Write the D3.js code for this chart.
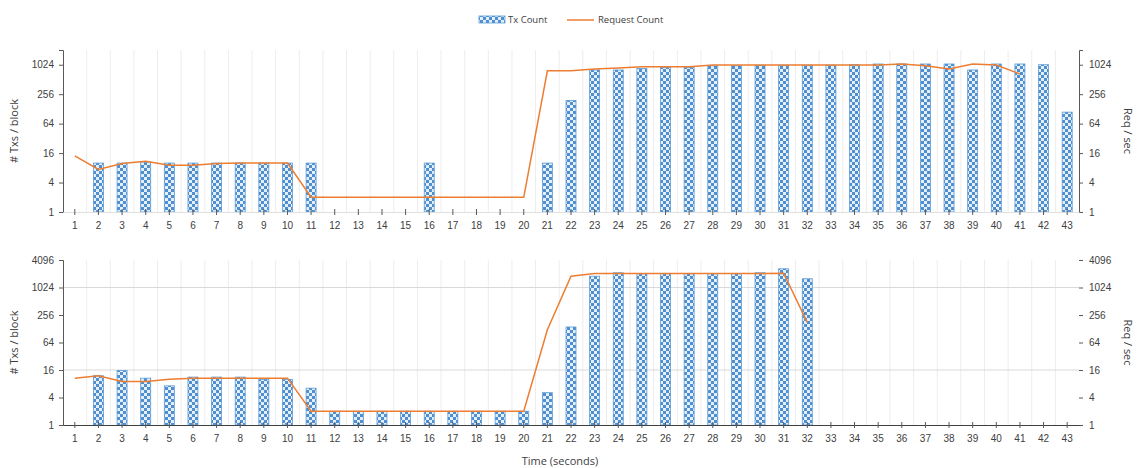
<!DOCTYPE html>
<html>
<head>
<meta charset="utf-8">
<script src="https://cdn.jsdelivr.net/npm/d3@7"></script>
<style>
  body { margin: 0; background: #fff; }
  svg { display: block; font-family: 'Open Sans', 'Liberation Sans', sans-serif; }
  .lbl { font-size: 10px; fill: #404040; }
</style>
</head>
<body>
<div id="chart"></div>
<script>
// seconds 1..43
const seconds = d3.range(1, 44);

// top run: tx per block (null = no block) and requests per second
const topTx = [null, 10, 10, 10.5, 10, 10, 10, 10, 10, 10, 10, null, null, null, null, 10, null, null, null, null,
  10, 190, 800, 800, 860, 900, 900, 975, 975, 1000, 1000, 1000, 1000, 1024, 1060, 1060, 1060, 1060, 800, 1060,
  1060, 1024, 110];
const topReq = [14, 7.4, 9.8, 10.9, 9, 9, 9.8, 10, 10, 10, 2, 2, 2, 2, 2, 2, 2, 2, 2, 2,
  770, 770, 835, 880, 930, 930, 930, 1010, 1010, 1010, 1010, 1010, 1010, 1010, 1010, 1060, 980, 835, 1060, 1010,
  660, null, null];

// bottom run
const botTx = [null, 12, 15.6, 10.6, 7.2, 11.2, 11.2, 11.2, 10, 10, 6.4, 2, 2, 2, 2, 2, 2, 2, 2, 2,
  5.1, 140, 1810, 2150, 2048, 2048, 2048, 2048, 2048, 2150, 2630, 1590,
  null, null, null, null, null, null, null, null, null, null, null];
const botReq = [10.6, 12, 9, 9, 10, 10.6, 10.6, 10.6, 10.6, 10.6, 2, 2, 2, 2, 2, 2, 2, 2, 2, 2,
  122, 1810, 2080, 2080, 2080, 2080, 2080, 2080, 2080, 2080, 2100, 177,
  null, null, null, null, null, null, null, null, null, null, null];

const topTicks = [1, 4, 16, 64, 256, 1024];
const botTicks = [1, 4, 16, 64, 256, 1024, 4096];
const botGrid = [16, 1024];

const W = 1137, H = 468;
const svg = d3.select('#chart').append('svg').attr('width', W).attr('height', H);

const defs = svg.append('defs');
const pat = defs.append('pattern')
  .attr('id', 'check')
  .attr('patternUnits', 'userSpaceOnUse')
  .attr('width', 6).attr('height', 6);
pat.append('rect').attr('width', 6).attr('height', 6).attr('fill', '#e4effa');
pat.append('rect').attr('width', 3).attr('height', 3).attr('fill', '#4f8fd0');
pat.append('rect').attr('x', 3).attr('y', 3).attr('width', 3).attr('height', 3).attr('fill', '#4f8fd0');

const x = d3.scaleBand().domain(seconds).range([63, 1079]).paddingInner(0).paddingOuter(0);
const barW = 10;

function panel(opts) {
  const { top, bottom, max, ticks, tx, req, grid, darkAxis, rightLine, xTitle } = opts;
  const y = d3.scaleLog().base(2).domain([1, max]).range([bottom, top]);
  const g = svg.append('g');

  // vertical gridlines at category boundaries
  g.selectAll('line.vg')
    .data(seconds.slice(1))
    .join('line')
    .attr('x1', (d) => x(d)).attr('x2', (d) => x(d))
    .attr('y1', top).attr('y2', bottom)
    .attr('stroke', '#ededed').attr('stroke-width', 1);

  g.selectAll('line.hg')
    .data(grid)
    .join('line')
    .attr('x1', x.range()[0]).attr('x2', x.range()[1])
    .attr('y1', (d) => y(d)).attr('y2', (d) => y(d))
    .attr('stroke', '#d9d9d9');

  // bars
  const bars = seconds.map((s, i) => ({ s, v: tx[i] })).filter((d) => d.v != null);
  g.selectAll('rect.bar')
    .data(bars)
    .join('rect')
    .attr('x', (d) => x(d.s) + x.bandwidth() / 2 - barW / 2)
    .attr('y', (d) => y(d.v))
    .attr('width', barW)
    .attr('height', (d) => y(1) - y(d.v))
    .attr('fill', 'url(#check)')
    .attr('stroke', '#5b9bd5')
    .attr('stroke-width', 0.8);

  // request line
  const pts = seconds.map((s, i) => ({ s, v: req[i] })).filter((d) => d.v != null);
  g.append('path')
    .datum(pts)
    .attr('fill', 'none')
    .attr('stroke', '#ed7d31')
    .attr('stroke-width', 1.5)
    .attr('d', d3.line().x((d) => x(d.s) + x.bandwidth() / 2).y((d) => y(d.v)));

  // left axis
  const la = g.append('g').attr('transform', `translate(${x.range()[0]},0)`)
    .call(d3.axisLeft(y).tickValues(ticks).tickFormat(d3.format('d')).tickSize(4).tickPadding(5));
  la.select('.domain').attr('stroke', '#595959');
  la.selectAll('.tick line').attr('stroke', '#595959');
  la.selectAll('text').attr('class', 'lbl').attr('fill', null);

  // right axis
  const ra = g.append('g').attr('transform', `translate(${x.range()[1]},0)`)
    .call(d3.axisRight(y).tickValues(ticks).tickFormat(d3.format('d')).tickSize(4).tickPadding(6));
  ra.select('.domain').attr('stroke', rightLine ? '#595959' : 'none');
  ra.selectAll('.tick line').attr('stroke', '#595959');
  ra.selectAll('text').attr('class', 'lbl').attr('fill', null);

  // x axis
  const xa = g.append('g').attr('transform', `translate(0,${bottom})`)
    .call(d3.axisBottom(x).tickSize(4).tickSizeOuter(0).tickPadding(6));
  xa.select('.domain').attr('stroke', darkAxis ? '#404040' : '#e0e0e0').attr('stroke-width', darkAxis ? 1.2 : 1);
  xa.selectAll('.tick line').attr('stroke', '#595959').attr('y1', -3).attr('y2', 3);
  xa.selectAll('text').attr('class', 'lbl').attr('fill', null);

  const mid = (top + bottom) / 2;
  g.append('text').attr('class', 'lbl')
    .attr('transform', `translate(18,${mid}) rotate(-90)`)
    .attr('text-anchor', 'middle').style('font-size', '11px')
    .text('# Txs / block');
  g.append('text').attr('class', 'lbl')
    .attr('transform', `translate(1124,${mid}) rotate(90)`)
    .attr('text-anchor', 'middle').style('font-size', '11px')
    .text('Req / sec');

  if (xTitle) {
    g.append('text').attr('class', 'lbl')
      .attr('x', 560).attr('y', bottom + 40)
      .attr('text-anchor', 'middle').style('font-size', '11px')
      .text(xTitle);
  }
}

panel({ top: 50, bottom: 212, max: 2048, ticks: topTicks, tx: topTx, req: topReq, grid: [], darkAxis: false, rightLine: true });
panel({ top: 260, bottom: 425, max: 4096, ticks: botTicks, tx: botTx, req: botReq, grid: botGrid, darkAxis: true, rightLine: false, xTitle: 'Time (seconds)' });

// legend
const leg = svg.append('g').attr('transform', 'translate(0,20)');
leg.append('rect').attr('x', 479).attr('y', -4).attr('width', 26).attr('height', 7)
  .attr('fill', 'url(#check)').attr('stroke', '#5b9bd5').attr('stroke-width', 0.8);
leg.append('text').attr('class', 'lbl').attr('x', 508).attr('y', 3).style('font-size', '9.5px').text('Tx Count');
leg.append('line').attr('x1', 567).attr('x2', 594).attr('y1', 0).attr('y2', 0)
  .attr('stroke', '#ed7d31').attr('stroke-width', 1.5);
leg.append('text').attr('class', 'lbl').attr('x', 598).attr('y', 3).style('font-size', '9.5px').text('Request Count');
</script>
</body>
</html>
